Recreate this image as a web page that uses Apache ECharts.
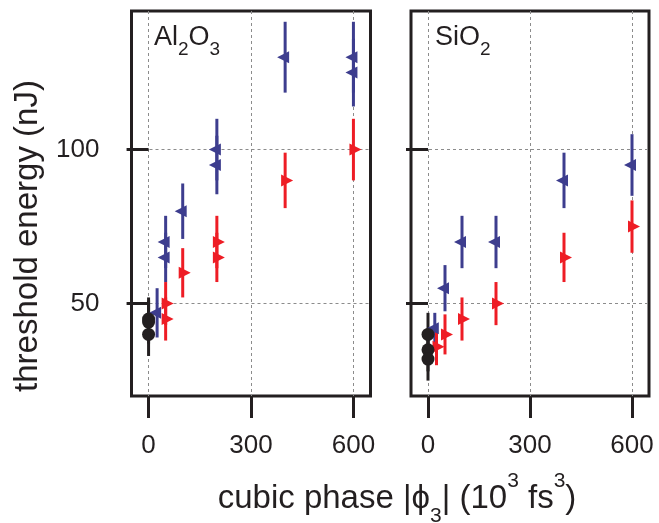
<!DOCTYPE html>
<html lang="en">
<head>
    <meta charset="UTF-8">
    <title>threshold energy</title>
    <script src="https://cdn.jsdelivr.net/npm/echarts@6/dist/echarts.min.js"></script>
    <style>
        *{
            margin: 0;
            padding: 0;
        }
        html,body{
            width: 100%;
            height: 100%;
            background: #fff;
        }
        .container{
            width: 659px;
            height: 523px;
        }
    </style>
</head>
<body>
<div class="container"></div>
<script>
    // [cubic phase, threshold, error]
    let alBlue = [[25, 47, 8], [50, 70, 8.5], [50, 65, 8], [100, 80, 9], [200, 100, 10], [200, 95, 9.5],
        [400, 130, 11.5], [600, 130, 11.5], [600, 125, 11]];
    let alRed = [[50, 50, 7], [50, 45, 7], [100, 60, 8], [200, 70, 8.5], [200, 65, 8], [400, 90, 9], [600, 100, 10]];
    let alBlack = [[0, 45, 7], [0, 44, 7], [0, 40, 7]];

    let siBlue = [[20, 42, 5], [50, 55, 7.5], [100, 70, 8.5], [200, 70, 8.5], [400, 90, 9], [600, 95, 10]];
    let siRed = [[25, 36, 6], [50, 40, 6.5], [100, 45, 7], [200, 50, 7], [400, 65, 8], [600, 75, 8.5]];
    let siBlack = [[0, 40, 7], [0, 35, 7], [0, 32, 7]];

    let xTicks = [0, 300, 600];
    let yTicks = [50, 100];

    let ink = '#231f20';
    let blue = '#3d3d8e';
    let red = '#ee1d25';
    let font = 'Liberation Sans';

    let chart = echarts.init(document.querySelector('.container'));

    function errBar(color) {
        return function (params, api) {
            let x = api.value(0), y = api.value(1), e = api.value(2);
            let top = api.coord([x, y + e]);
            let bot = api.coord([x, y - e]);
            return {
                type: 'line',
                shape: {x1: top[0], y1: top[1], x2: bot[0], y2: bot[1]},
                style: {stroke: color, lineWidth: 3}
            };
        };
    }

    let series = [];
    [[alBlue, alRed, alBlack], [siBlue, siRed, siBlack]].forEach((sets, i) => {
        let colors = [blue, red, ink];
        sets.forEach((d, k) => {
            series.push({
                type: 'custom',
                xAxisIndex: i,
                yAxisIndex: i,
                data: d,
                encode: {x: 0, y: 1},
                renderItem: errBar(colors[k]),
                silent: true
            });
            let sym = {
                type: 'scatter',
                xAxisIndex: i,
                yAxisIndex: i,
                data: d.map(p => [p[0], p[1]]),
                itemStyle: {color: colors[k], opacity: 1},
                silent: true
            };
            if (k == 0) {
                sym.symbol = 'triangle';
                sym.symbolSize = [12, 12];
                sym.symbolRotate = 90;
                sym.symbolOffset = [-2, 0];
            } else if (k == 1) {
                sym.symbol = 'triangle';
                sym.symbolSize = [12, 12];
                sym.symbolRotate = -90;
                sym.symbolOffset = [2, 0];
            } else {
                sym.symbol = 'circle';
                sym.symbolSize = 13;
            }
            series.push(sym);
        });
    });

    function xAxis(i) {
        return {
            gridIndex: i,
            type: 'value',
            min: -50,
            max: 650,
            axisLine: {show: false},
            axisTick: {customValues: xTicks, length: 22, lineStyle: {color: ink, width: 3}},
            axisLabel: {customValues: xTicks, fontSize: 26, margin: 37, color: ink, fontFamily: font},
            splitLine: {show: true, lineStyle: {color: '#8c8c8c', width: 1, type: [3, 3]}}
        };
    }

    function yAxis(i) {
        return {
            gridIndex: i,
            type: 'value',
            min: 20,
            max: 145,
            axisLine: {show: false},
            axisTick: {customValues: yTicks, length: 22, lineStyle: {color: ink, width: 3}},
            axisLabel: {show: i == 0, customValues: yTicks, fontSize: 26, margin: 32, color: ink, fontFamily: font},
            splitLine: {show: true, lineStyle: {color: '#8c8c8c', width: 1, type: [3, 3]}}
        };
    }

    let gridStyle = {show: true, borderColor: ink, borderWidth: 3, backgroundColor: 'transparent', containLabel: false};

    let panelRich = {
        m: {fontSize: 27, lineHeight: 44, fontFamily: font, fill: ink},
        s: {fontSize: 19, lineHeight: 18, verticalAlign: 'bottom', fontFamily: font, fill: ink}
    };

    let option = {
        backgroundColor: '#fff',
        animation: false,
        grid: [
            Object.assign({left: 131.5, top: 11, width: 239, height: 385}, gridStyle),
            Object.assign({left: 411, top: 11, width: 238, height: 385}, gridStyle)
        ],
        xAxis: [xAxis(0), xAxis(1)],
        yAxis: [yAxis(0), yAxis(1)],
        series,
        graphic: [
            {
                type: 'text', left: 154, top: 24, silent: true,
                style: {text: '{m|Al}{s|2}{m|O}{s|3}', rich: panelRich}
            },
            {
                type: 'text', left: 435, top: 24, silent: true,
                style: {text: '{m|SiO}{s|2}', rich: panelRich}
            },
            {
                type: 'text', x: 28, y: 236, rotation: Math.PI / 2, silent: true,
                style: {
                    text: 'threshold energy (nJ)',
                    fontSize: 33, fontFamily: font, fill: ink,
                    align: 'center', verticalAlign: 'middle'
                }
            },
            {
                type: 'text', x: 397, y: 499, silent: true,
                style: {
                    text: '{m|cubic phase |ϕ}{b|3}{m|| (10}{p|3}{m| fs}{p|3}{m|)}',
                    align: 'center', verticalAlign: 'middle',
                    rich: {
                        m: {fontSize: 33, lineHeight: 56, fontFamily: font, fill: ink},
                        p: {fontSize: 21, lineHeight: 28, verticalAlign: 'top', fontFamily: font, fill: ink},
                        b: {fontSize: 21, lineHeight: 21, verticalAlign: 'bottom', fontFamily: font, fill: ink}
                    }
                }
            }
        ]
    };
    chart.setOption(option);
</script>
</body>
</html>
